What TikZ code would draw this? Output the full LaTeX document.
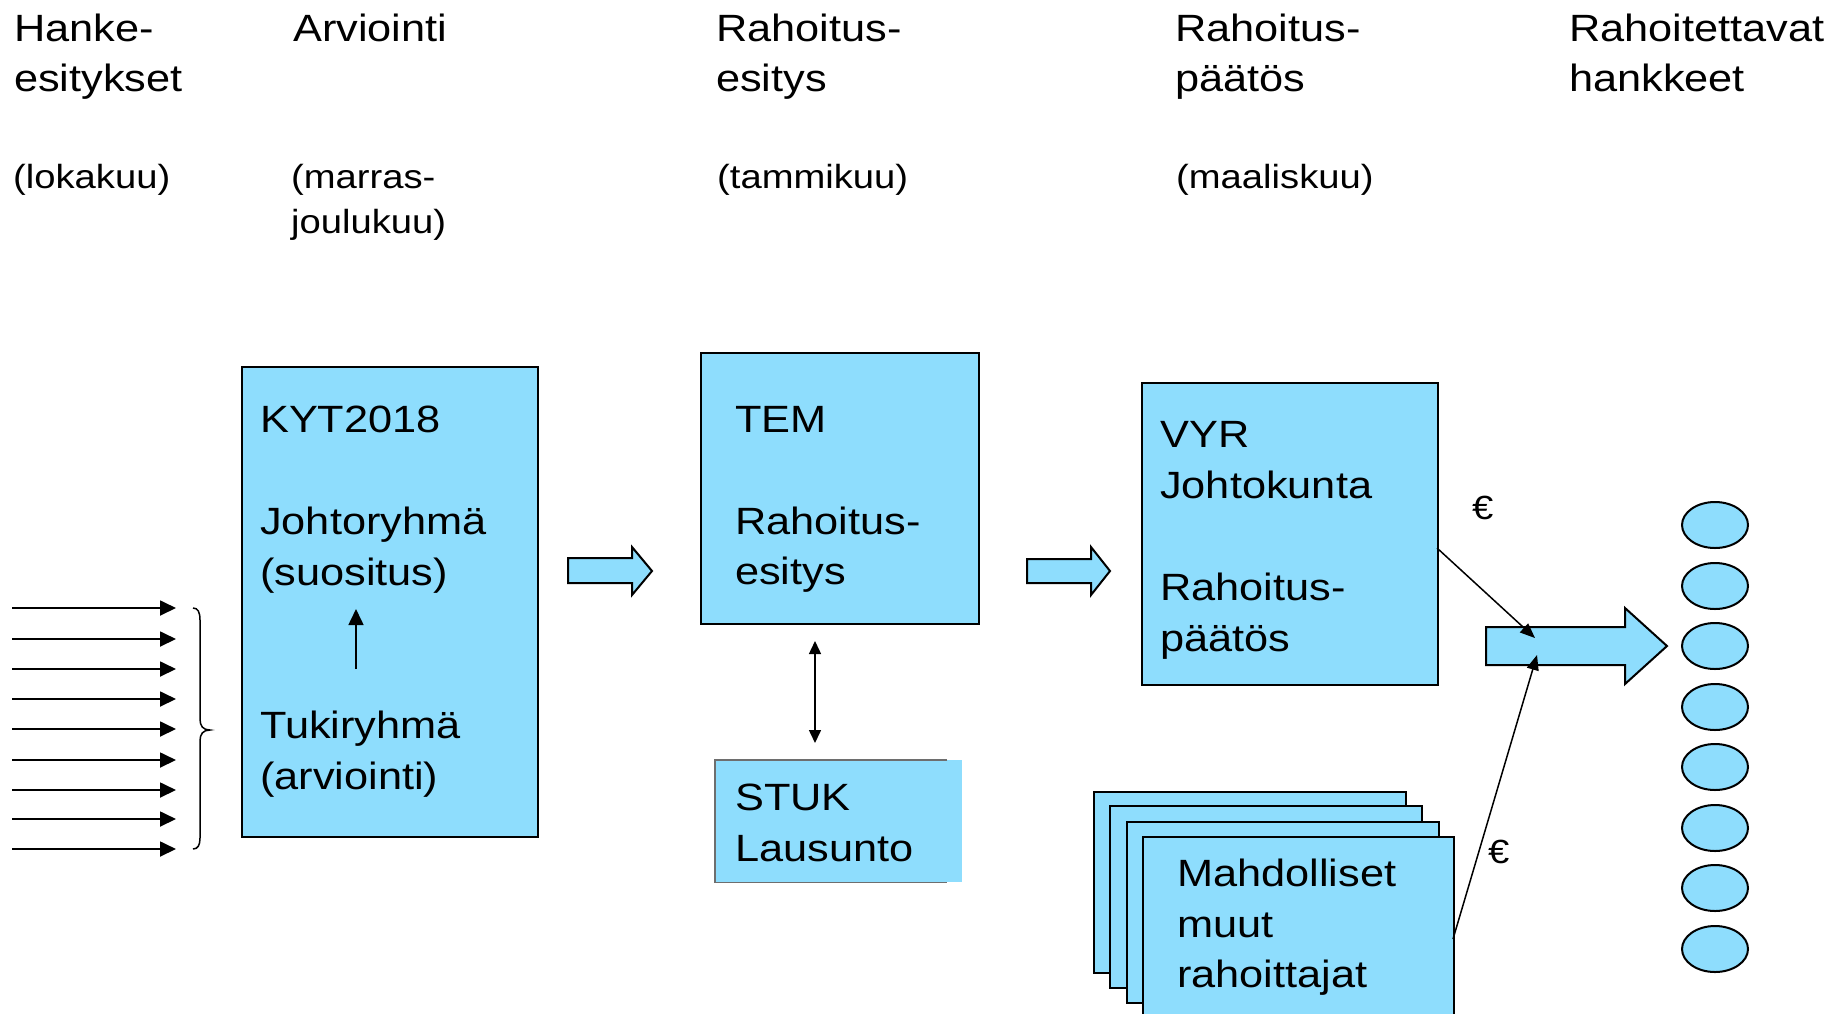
\documentclass[tikz,border=0pt]{standalone}
\usepackage{fontspec}
\setmainfont[FakeStretch=1.14]{Liberation Sans}
\usetikzlibrary{arrows.meta,shapes.geometric}
\definecolor{boxblue}{RGB}{142,221,253}
\newcommand\bigfnt{\fontsize{38}{50}\selectfont}
\newcommand\smfnt{\fontsize{33.5}{42}\selectfont}
\begin{document}
\begin{tikzpicture}[x=1pt,y=-1pt,
  txt/.style={anchor=base west,inner sep=0pt,font=\bigfnt},
  subtxt/.style={anchor=base west,inner sep=0pt,font=\smfnt},
  bluebox/.style={draw=black,fill=boxblue,line width=2pt,anchor=north west,inner sep=0pt},
  blockarrow/.style={draw=black,fill=boxblue,line width=2pt,line join=miter},
  inarrow/.style={-{Triangle[length=16pt,width=15pt]},line width=1.8pt},
  thinarrow/.style={-{Triangle[length=15pt,width=12pt]},line width=1.5pt},
  dblarrow/.style={{Triangle[length=13pt,width=12pt]}-{Triangle[length=13pt,width=12pt]},line width=1.5pt},
  proj/.style={ellipse,draw=black,fill=boxblue,line width=2pt,minimum width=66pt,minimum height=46pt,inner sep=0pt}
]
\useasboundingbox (0,0) rectangle (1841,1013);

% ---------- headers ----------
\node[txt] (h1a) at (14,41) {Hanke-};
\node[txt] (h1b) at (14,91) {esitykset};
\node[subtxt] (h1c) at (13,188) {(lokakuu)};

\node[txt] (h2a) at (293,41) {Arviointi};
\node[subtxt] (h2c) at (291,188) {(marras-};
\node[subtxt] (h2d) at (291,233) {joulukuu)};

\node[txt] (h3a) at (716,41) {Rahoitus-};
\node[txt] (h3b) at (716,91) {esitys};
\node[subtxt] (h3c) at (717,188) {(tammikuu)};

\node[txt] (h4a) at (1175,41) {Rahoitus-};
\node[txt] (h4b) at (1175,91) {päätös};
\node[subtxt] (h4c) at (1176,188) {(maaliskuu)};

\node[txt] (h5a) at (1569,41) {Rahoitettavat};
\node[txt] (h5b) at (1569,91) {hankkeet};

% ---------- incoming arrows and brace ----------
\foreach \i/\y in {1/608,2/639,3/669,4/699,5/729,6/760,7/790,8/819,9/849}{
  \coordinate (ins\i) at (12,\y);
  \coordinate (ine\i) at (176,\y);
  \draw[inarrow] (ins\i) -- (ine\i);
}
\draw[line width=1.5pt] (193,608) .. controls (198,608) and (200,612) .. (200,620)
  -- (200,719) .. controls (200,726) and (203,730) .. (210,730)
  .. controls (203,730) and (200,734) .. (200,741)
  -- (200,838) .. controls (200,845) and (198,849) .. (193,849);

% ---------- KYT2018 box ----------
\node[bluebox,minimum width=296pt,minimum height=470pt] (kyt) at (241,366) {};
\node[txt] (kyt1) at (260,432) {KYT2018};
\node[txt] (kyt2) at (260,534) {Johtoryhmä};
\node[txt] (kyt3) at (260,585) {(suositus)};
\node[txt] (kyt4) at (260,738) {Tukiryhmä};
\node[txt] (kyt5) at (260,789) {(arviointi)};
\coordinate (kytlow) at (356,669);
\coordinate (kythigh) at (356,609);
\draw[inarrow,line width=1.6pt] (kytlow) -- (kythigh);

% ---------- block arrow 1 ----------
\draw[blockarrow] (568,558) -- (632,558) -- (632,547) -- (652,571) -- (632,595) -- (632,583) -- (568,583) -- cycle;

% ---------- TEM box ----------
\node[bluebox,minimum width=278pt,minimum height=271pt] (tem) at (700,352) {};
\node[txt] (tem1) at (735,432) {TEM};
\node[txt] (tem2) at (735,534) {Rahoitus-};
\node[txt] (tem3) at (735,584) {esitys};

% ---------- double arrow ----------
\coordinate (dtop) at (815,641);
\coordinate (dbot) at (815,743);
\draw[dblarrow] (dtop) -- (dbot);

% ---------- STUK box ----------
\node[fill=boxblue,anchor=north west,inner sep=0pt,minimum width=247pt,minimum height=122pt] (stuk) at (715,760) {};
\draw[draw={rgb,255:red,110;green,110;blue,110},line width=1.5pt]
  ([xshift=-15pt]stuk.north east) -- (stuk.north west) -- (stuk.south west) -- ([xshift=-15pt]stuk.south east);
\node[txt] (stuk1) at (735,810) {STUK};
\node[txt] (stuk2) at (735,861) {Lausunto};

% ---------- block arrow 2 ----------
\draw[blockarrow] (1027,559) -- (1091,559) -- (1091,547) -- (1110,571) -- (1091,595) -- (1091,583) -- (1027,583) -- cycle;

% ---------- VYR box ----------
\node[bluebox,minimum width=296pt,minimum height=302pt] (vyr) at (1141,382) {};
\node[txt] (vyr1) at (1160,447) {VYR};
\node[txt] (vyr2) at (1160,498) {Johtokunta};
\node[txt] (vyr3) at (1160,600) {Rahoitus-};
\node[txt] (vyr4) at (1160,651) {päätös};

% ---------- stacked boxes ----------
\node[bluebox,minimum width=312pt,minimum height=181pt] (m1) at (1093,791) {};
\node[bluebox,minimum width=312pt,minimum height=182pt] (m2) at (1109,805) {};
\node[bluebox,minimum width=312pt,minimum height=181pt] (m3) at (1126,821) {};
\node[bluebox,minimum width=311pt,minimum height=200pt] (m4) at (1142,836) {};
\node[txt] (m4a) at (1177,886) {Mahdolliset};
\node[txt] (m4b) at (1177,937) {muut};
\node[txt] (m4c) at (1177,987) {rahoittajat};

% ---------- big block arrow ----------
\draw[blockarrow] (1486,627) -- (1625,627) -- (1625,608) -- (1667,646) -- (1625,684) -- (1625,665) -- (1486,665) -- cycle;

% ---------- money connectors ----------
\coordinate (vyrout) at (1437,548);
\coordinate (hit1) at (1535,638);
\draw[thinarrow] (vyrout) -- (hit1);
\coordinate (mout) at (1453,939);
\coordinate (hit2) at (1537,655);
\draw[thinarrow] (mout) -- (hit2);
\node[subtxt] (eur1) at (1472,519) {€};
\node[subtxt] (eur2) at (1488,863) {€};

% ---------- projects ----------
\foreach \i/\y in {1/525,2/586,3/646,4/707,5/767,6/828,7/888,8/949}{
  \node[proj] (p\i) at (1715,\y) {};
}
\end{tikzpicture}
\end{document}
